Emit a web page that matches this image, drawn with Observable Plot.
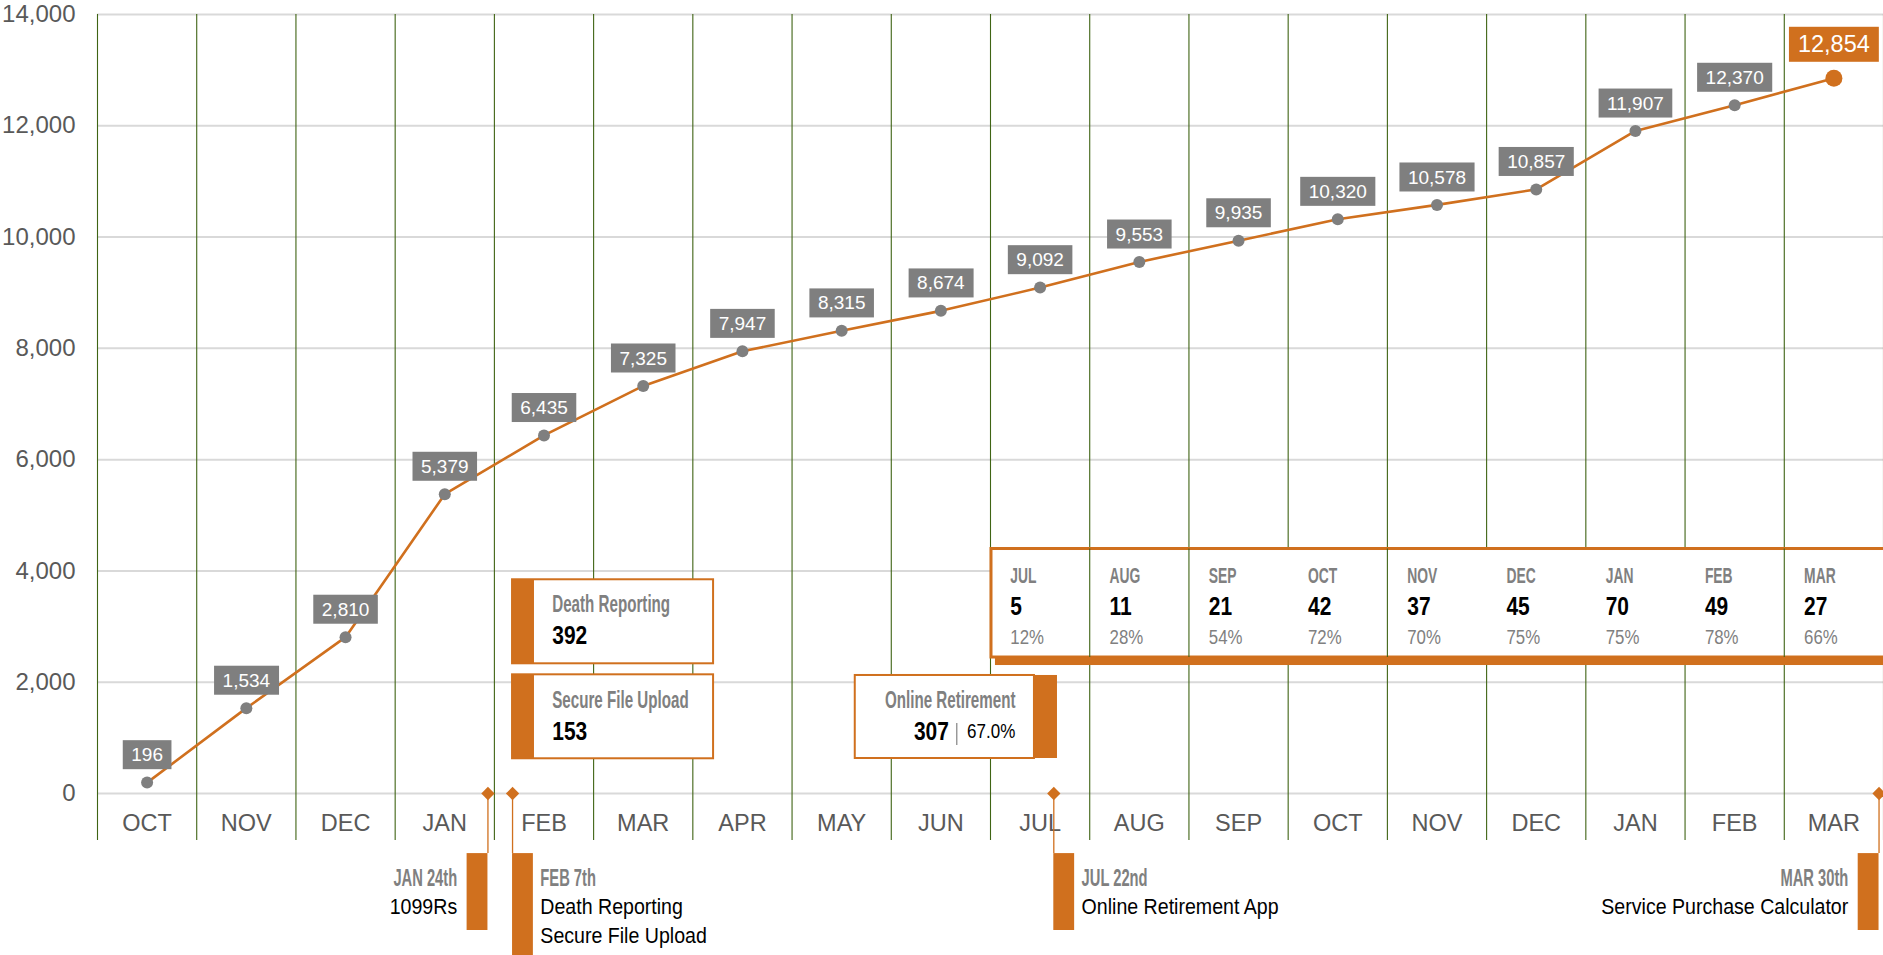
<!DOCTYPE html>
<html>
<head>
<meta charset="utf-8">
<script src="https://cdn.jsdelivr.net/npm/d3@7"></script>
<script src="https://cdn.jsdelivr.net/npm/@observablehq/plot@0.6"></script>
<style>
  html, body { margin: 0; padding: 0; background: #fff; overflow: hidden; }
  #chart svg { display: block; }
</style>
</head>
<body>
<div id="chart"></div>
<script>
// ---------------- DATA ----------------
const months = ["OCT","NOV","DEC","JAN","FEB","MAR","APR","MAY","JUN","JUL","AUG","SEP","OCT","NOV","DEC","JAN","FEB","MAR"];
const totals = [196, 1534, 2810, 5379, 6435, 7325, 7947, 8315, 8674, 9092, 9553, 9935, 10320, 10578, 10857, 11907, 12370, 12854];
const yTicks = [0, 2000, 4000, 6000, 8000, 10000, 12000, 14000];

const tableMonths = ["JUL","AUG","SEP","OCT","NOV","DEC","JAN","FEB","MAR"];
const tableCounts = [5, 11, 21, 42, 37, 45, 70, 49, 27];
const tablePcts = [12, 28, 54, 72, 70, 75, 75, 78, 66];

const featureNames = ["Death Reporting", "Secure File Upload"];
const featureCounts = [392, 153];

const retirementName = "Online Retirement";
const retirementCount = 307;
const retirementPct = 67.0;

const eventDates = ["JAN 24th", "FEB 7th", "JUL 22nd", "MAR 30th"];
const eventItems = [["1099Rs"], ["Death Reporting", "Secure File Upload"], ["Online Retirement App"], ["Service Purchase Calculator"]];
const eventMonthPos = [3.935, 4.183, 9.638, 17.955]; // position on the month axis

// ---------------- STYLE / LAYOUT ----------------
const ORANGE = "#D0701E", GRAY = "#7F7F7F", GREEN = "#3F6414", GRID = "#D9D9D9", AXIS = "#595959";
const FONT = "'Liberation Sans', Arial, Helvetica, sans-serif";

const L = {
  feat: { x1: 4.183, x2: 6.209, bar: 0.221, textX: 4.583,
          tops: [3841, 2133], bottoms: [2331, 624], titleY: [3391, 1671], numY: [2831, 1118] },
  ret: { x1: 7.637, x2: 9.675, bar: 0.232, top: 2121, bottom: 629,
         titleX: 9.252, titleY: 1680, numX: 8.58, sepX: 8.66, pctX: 9.25, numY: 1114, sepY1: 1258, sepY2: 863 },
  table: { x1: 9.01, x2: 18.4, top: 4394, bottom: 2444, shadowX1: 9.05, shadowBottom: 2300,
           firstMonth: 9, textDx: 0.2, monthY: 3909, countY: 3352, pctY: 2813, showLines: [10, 11, 13, 17] },
  evt: { side: ["left", "right", "right", "left"], barW: 0.21, gapLeft: 0.31, gapRight: 0.28,
         barTop: -1080, dateY: -1530, descY: -2040, step: 512, barPad: 422 }
};

// ---------------- TABLES BUILT FROM THE ARRAYS ----------------
const fmt = d3.format(",");
const series = months.map((m, i) => ({ i, m, v: totals[i] }));
const xc = d => d.i + 0.5;
const body = series.slice(0, -1);
const lastPt = series.slice(-1);

const feats = featureNames.map((name, k) => ({
  name, count: featureCounts[k],
  top: L.feat.tops[k], bottom: L.feat.bottoms[k], titleY: L.feat.titleY[k], numY: L.feat.numY[k]
}));

const tableRows = tableMonths.map((m, j) => ({
  m, c: tableCounts[j], p: tablePcts[j] + "%", x: L.table.firstMonth + j + L.table.textDx
}));

const events = eventDates.map((d, k) => {
  const side = L.evt.side[k], pos = eventMonthPos[k], n = eventItems[k].length;
  return {
    d, pos, side,
    x1: side === "left" ? pos - L.evt.barW : pos,
    x2: side === "left" ? pos : pos + L.evt.barW,
    tx: side === "left" ? pos - L.evt.gapLeft : pos + L.evt.gapRight,
    bottom: L.evt.descY - (n - 1) * L.evt.step - L.evt.barPad
  };
});
const eventLines = events.flatMap((e, k) => eventItems[k].map((t, j) => ({ ...e, t, y: L.evt.descY - j * L.evt.step })));
const evL = events.filter(e => e.side === "left"), evR = events.filter(e => e.side === "right");
const elL = eventLines.filter(e => e.side === "left"), elR = eventLines.filter(e => e.side === "right");

const T = L.table, R = L.ret, F = L.feat, E = L.evt;
const tag = s => () => s;   // constant aria-label used to find elements afterwards

const chart = Plot.plot({
  width: 1883, height: 955,
  marginLeft: 97, marginRight: 0, marginTop: 14, marginBottom: 115,
  style: { fontFamily: FONT, background: "#fff", overflow: "visible" },
  x: { domain: [0, 18], axis: null },
  y: { domain: [0, 14000], range: [793, 14] },
  marks: [
    Plot.ruleY(yTicks, { stroke: GRID, strokeWidth: 2 }),
    Plot.ruleX(d3.range(19), { stroke: GREEN, strokeWidth: 1.1 }),
    Plot.axisY(yTicks, { anchor: "left", tickSize: 0, tickPadding: 22, tickFormat: fmt, fontSize: 24, color: AXIS, label: null }),
    Plot.text(series, { x: xc, text: "m", frameAnchor: "bottom", lineAnchor: "middle", dy: -17, fontSize: 23.5, fill: AXIS }),

    // feature boxes (Death Reporting / Secure File Upload)
    Plot.rect(feats, { x1: F.x1, x2: F.x2, y1: "top", y2: "bottom", fill: "white", stroke: ORANGE, strokeWidth: 2 }),
    Plot.rect(feats, { x1: F.x1, x2: F.x1 + F.bar, y1: "top", y2: "bottom", fill: ORANGE }),
    Plot.text(feats, { x: F.textX, y: "titleY", text: "name", textAnchor: "start", fontSize: 23.5, fontWeight: "bold", fill: "#808080", ariaLabel: tag("c-title") }),
    Plot.text(feats, { x: F.textX, y: "numY", text: d => String(d.count), textAnchor: "start", fontSize: 26.5, fontWeight: "bold", fill: "#000", ariaLabel: tag("c-num") }),

    // Online Retirement box
    Plot.rect([R], { x1: R.x1, x2: R.x2 - R.bar, y1: R.top, y2: R.bottom, fill: "white", stroke: ORANGE, strokeWidth: 2 }),
    Plot.rect([R], { x1: R.x2 - R.bar, x2: R.x2, y1: R.top, y2: R.bottom, fill: ORANGE }),
    Plot.text([retirementName], { x: R.titleX, y: R.titleY, text: d => d, textAnchor: "end", fontSize: 23.5, fontWeight: "bold", fill: "#808080", ariaLabel: tag("c-title") }),
    Plot.text([retirementCount], { x: R.numX, y: R.numY, text: d => String(d), textAnchor: "end", fontSize: 26.5, fontWeight: "bold", fill: "#000", ariaLabel: tag("c-num") }),
    Plot.ruleX([R.sepX], { y1: R.sepY1, y2: R.sepY2, stroke: "#8c8c8c", strokeWidth: 1.3 }),
    Plot.text([retirementPct], { x: R.pctX, y: R.numY, text: d => d3.format(".1f")(d) + "%", textAnchor: "end", fontSize: 20, fill: "#000", ariaLabel: tag("c-reg") }),

    // monthly table
    Plot.rect([T], { x1: T.x1, x2: T.x2, y1: T.top, y2: T.bottom, fill: "white", stroke: ORANGE, strokeWidth: 3 }),
    Plot.rect([T], { x1: T.shadowX1, x2: T.x2, y1: T.bottom, y2: T.shadowBottom, fill: ORANGE }),
    Plot.ruleX(T.showLines, { y1: T.top, y2: T.bottom, stroke: GREEN, strokeWidth: 1.1 }),
    Plot.text(tableRows, { x: "x", y: T.monthY, text: "m", textAnchor: "start", fontSize: 22, fontWeight: "bold", fill: "#808080", ariaLabel: tag("c-tmonth") }),
    Plot.text(tableRows, { x: "x", y: T.countY, text: d => String(d.c), textAnchor: "start", fontSize: 26.5, fontWeight: "bold", fill: "#000", ariaLabel: tag("c-num") }),
    Plot.text(tableRows, { x: "x", y: T.pctY, text: "p", textAnchor: "start", fontSize: 20.5, fill: "#808080", ariaLabel: tag("c-pct") }),

    // main series
    Plot.line(series, { x: xc, y: "v", stroke: ORANGE, strokeWidth: 2.6 }),
    Plot.dot(body, { x: xc, y: "v", r: 6, fill: GRAY }),
    Plot.dot(lastPt, { x: xc, y: "v", r: 8.5, fill: ORANGE }),
    Plot.text(body, { x: xc, y: "v", text: d => fmt(d.v), dy: -27.5, fontSize: 19, fill: "white", ariaLabel: tag("vlab") }),
    Plot.text(lastPt, { x: xc, y: "v", text: d => fmt(d.v), dy: -33.5, fontSize: 23.5, fill: "white", ariaLabel: tag("vlab-last") }),

    // release events below the axis
    Plot.ruleX(events, { x: "pos", y1: 0, y2: E.barTop, stroke: ORANGE, strokeWidth: 1.3 }),
    Plot.rect(events, { x1: "x1", x2: "x2", y1: E.barTop, y2: "bottom", fill: ORANGE }),
    Plot.dot(events, { x: "pos", y: () => 0, symbol: "diamond2", r: 6, fill: ORANGE }),
    Plot.text(evL, { x: "tx", y: E.dateY, text: "d", textAnchor: "end", fontSize: 23, fontWeight: "bold", fill: "#808080", ariaLabel: tag("c-date") }),
    Plot.text(evR, { x: "tx", y: E.dateY, text: "d", textAnchor: "start", fontSize: 23, fontWeight: "bold", fill: "#808080", ariaLabel: tag("c-date") }),
    Plot.text(elL, { x: "tx", y: "y", text: "t", textAnchor: "end", fontSize: 22.5, fill: "#000", ariaLabel: tag("c-desc") }),
    Plot.text(elR, { x: "tx", y: "y", text: "t", textAnchor: "start", fontSize: 22.5, fill: "#000", ariaLabel: tag("c-desc") })
  ]
});

document.getElementById("chart").append(chart);
const svg = chart.tagName.toLowerCase() === "svg" ? chart : chart.querySelector("svg");
const NS = "http://www.w3.org/2000/svg";

// condensed lettering (the original uses a condensed face)
const squeeze = { "c-title": 0.645, "c-tmonth": 0.63, "c-date": 0.64, "c-num": 0.79, "c-pct": 0.82, "c-reg": 0.85, "c-desc": 0.87 };
for (const [label, f] of Object.entries(squeeze)) {
  svg.querySelectorAll(`text[aria-label="${label}"]`).forEach(t => {
    try {
      const len = t.getComputedTextLength();
      if (len > 0) {
        t.setAttribute("textLength", (len * f).toFixed(2));
        t.setAttribute("lengthAdjust", "spacingAndGlyphs");
      }
    } catch (e) {}
  });
}

// boxes behind value labels
function labelBoxes(label, fill, padX, h) {
  const texts = Array.from(svg.querySelectorAll(`text[aria-label="${label}"]`));
  if (!texts.length) return;
  const g = texts[0].parentNode;
  const bg = document.createElementNS(NS, "g");
  g.parentNode.insertBefore(bg, g);
  const rootM = bg.getCTM();
  const rootInv = rootM ? rootM.inverse() : null;
  texts.forEach(t => {
    const b = t.getBBox();
    const m = t.getCTM();
    const p = svg.createSVGPoint();
    p.x = b.x; p.y = b.y + b.height / 2;
    let q = p.matrixTransform(m);
    if (rootInv) q = q.matrixTransform(rootInv);
    const r = document.createElementNS(NS, "rect");
    r.setAttribute("x", q.x - padX);
    r.setAttribute("y", q.y - h / 2);
    r.setAttribute("width", b.width + 2 * padX);
    r.setAttribute("height", h);
    r.setAttribute("fill", fill);
    bg.appendChild(r);
  });
}
labelBoxes("vlab", GRAY, 8.5, 29);
labelBoxes("vlab-last", ORANGE, 9, 35);
</script>
</body>
</html>
